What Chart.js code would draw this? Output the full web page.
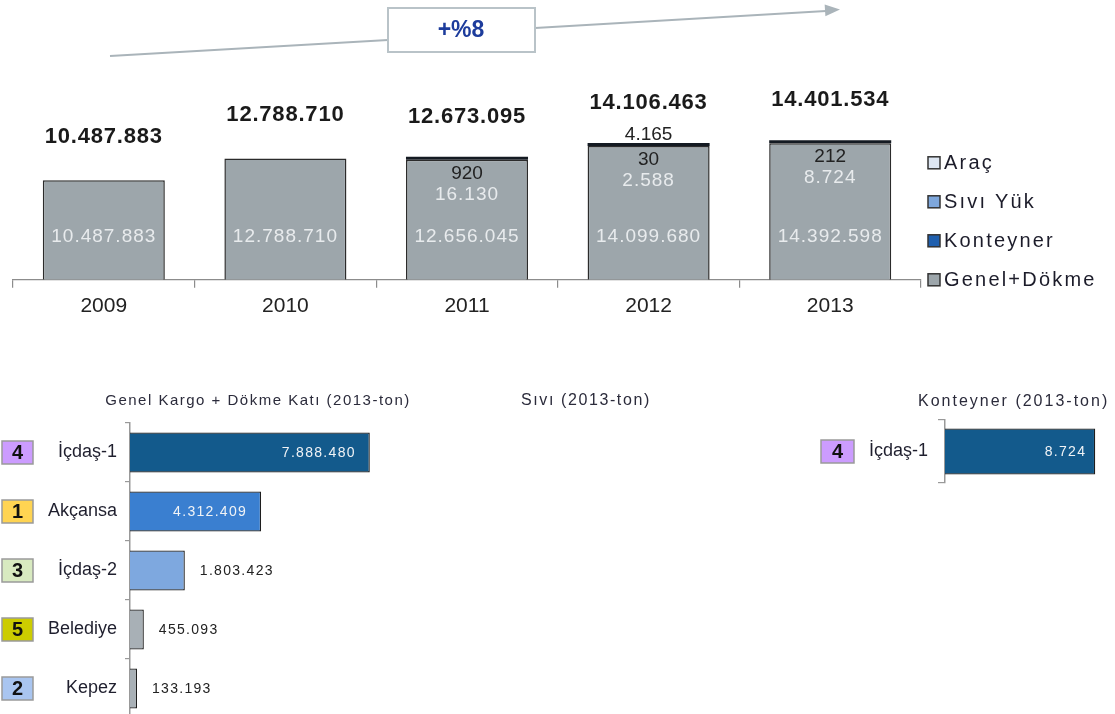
<!DOCTYPE html>
<html><head><meta charset="utf-8">
<script src="https://cdn.jsdelivr.net/npm/chart.js@4"></script>
<style>
html,body{margin:0;padding:0;background:#fff;overflow:hidden;width:1115px;height:714px;}
.c{position:absolute;}
canvas{display:block;}
</style></head><body>
<div class="c" style="left:0;top:0;"><canvas id="top" width="1115" height="340"></canvas></div>
<div class="c" style="left:0;top:380px;"><canvas id="left" width="450" height="357"></canvas></div>
<div class="c" style="left:500px;top:380px;"><canvas id="right" width="615" height="140"></canvas></div>
<script>
// ---------- data ----------
const years = ['2009','2010','2011','2012','2013'];
const genelDokme = [10487883,12788710,12656045,14099680,14392598];
const konteyner  = [null,null,16130,2588,8724];
const siviYuk    = [null,null,920,30,212];
const arac       = [null,null,null,4165,null];
const seriesNames = ['Genel+Dökme','Konteyner','Sıvı Yük','Araç'];

const genelTitle = 'Genel Kargo + Dökme Katı (2013-ton)';
const genelCompanies = ['İçdaş-1','Akçansa','İçdaş-2','Belediye','Kepez'];
const genelValues = [7888480,4312409,1803423,455093,133193];
const genelRanks = ['4','1','3','5','2'];

const siviTitle = 'Sıvı (2013-ton)';
const konteynerTitle = 'Konteyner (2013-ton)';
const konteynerCompanies = ['İçdaş-1'];
const konteynerValues = [8724];
const konteynerRanks = ['4'];

// ---------- styles ----------
const FONT = "'Liberation Sans', Arial, sans-serif";
const fmt = v => String(v).replace(/\B(?=(\d{3})+(?!\d))/g, '.');
const rankColors = {'1':'#ffd452','2':'#a9c5f0','3':'#d8eac0','4':'#cc9cff','5':'#cccc00'};
const legendColors = ['#9da6ab','#1f5fae','#7ea7dc','#dde6f2'];

const totals = years.map((_, i) => genelDokme[i] + (konteyner[i]||0) + (siviYuk[i]||0) + (arac[i]||0));
const growthPct = Math.round((Math.pow(totals[totals.length-1]/totals[0], 1/(totals.length-1)) - 1) * 100);

// ---------- top chart plugins ----------
const arrowPlugin = {
  id: 'arrow',
  afterDraw(chart) {
    const ctx = chart.ctx;
    ctx.save();
    ctx.strokeStyle = '#aab4ba'; ctx.lineWidth = 2;
    ctx.beginPath(); ctx.moveTo(110, 56); ctx.lineTo(388, 40); ctx.stroke();
    ctx.beginPath(); ctx.moveTo(535, 28); ctx.lineTo(826, 11); ctx.stroke();
    const tx = 840, ty = 9.5, dx = 1, dy = -0.058, len = Math.hypot(dx, dy);
    const ux = dx/len, uy = dy/len, px = -uy, py = ux;
    ctx.fillStyle = '#aab4ba';
    ctx.beginPath();
    ctx.moveTo(tx, ty);
    ctx.lineTo(tx - ux*15 + px*6, ty - uy*15 + py*6);
    ctx.lineTo(tx - ux*15 - px*6, ty - uy*15 - py*6);
    ctx.closePath(); ctx.fill();
    ctx.fillStyle = '#fff'; ctx.fillRect(388, 8, 147, 44);
    ctx.strokeStyle = '#b9c3c8'; ctx.lineWidth = 2; ctx.strokeRect(388, 8, 147, 44);
    ctx.fillStyle = '#1d3c9c'; ctx.font = `bold 23px ${FONT}`;
    ctx.textAlign = 'center'; ctx.textBaseline = 'middle';
    ctx.fillText('+%' + growthPct, 461, 31);
    ctx.restore();
  }
};

const topLabels = {
  id: 'topLabels',
  afterDatasetsDraw(chart) {
    const ctx = chart.ctx;
    const m0 = chart.getDatasetMeta(0);
    ctx.save();
    ctx.textAlign = 'center'; ctx.textBaseline = 'middle';
    years.forEach((y, i) => {
      const el = m0.data[i];
      const x = el.x, top = el.y, bottom = el.base;
      ctx.font = `19px ${FONT}`;
      ctx.letterSpacing = '1px';
      ctx.fillStyle = '#e8ebed';
      ctx.fillText(fmt(genelDokme[i]), x, bottom - 43);
      if (konteyner[i]) ctx.fillText(fmt(konteyner[i]), x, top + 35);
      ctx.fillStyle = '#222';
      ctx.letterSpacing = '0px';
      if (siviYuk[i]) ctx.fillText(fmt(siviYuk[i]), x, top + 14);
      if (arac[i]) ctx.fillText(fmt(arac[i]), x, top - 11);
      ctx.font = `bold 22px ${FONT}`;
      ctx.fillStyle = '#1a1a1a';
      ctx.letterSpacing = '0.8px';
      ctx.fillText(fmt(totals[i]), x, top - 43);
    });
    ctx.restore();
  }
};

const topLegend = {
  id: 'topLegend',
  afterDraw(chart) {
    const ctx = chart.ctx;
    const b = chart.chartArea.bottom;
    ctx.save();
    ctx.font = `20px ${FONT}`;
    ctx.letterSpacing = '2.2px';
    ctx.textAlign = 'left'; ctx.textBaseline = 'middle';
    for (let k = seriesNames.length - 1; k >= 0; k--) {
      const yc = b - k * 39;
      ctx.fillStyle = legendColors[k];
      ctx.fillRect(928, yc - 6, 12, 12);
      ctx.strokeStyle = '#333'; ctx.lineWidth = 1.5;
      ctx.strokeRect(928, yc - 6, 12, 12);
      ctx.fillStyle = '#1c1c2a';
      ctx.fillText(seriesNames[k], 944, yc + 1);
    }
    ctx.restore();
  }
};

new Chart(document.getElementById('top'), {
  type: 'bar',
  data: {
    labels: years,
    datasets: [
      {label: seriesNames[0], data: genelDokme, backgroundColor: '#9da6ab', borderColor: '#2b2b2b', borderWidth: 1.5},
      {label: seriesNames[1], data: konteyner, backgroundColor: '#141a22', borderWidth: 0, minBarLength: 3},
      {label: seriesNames[2], data: siviYuk, backgroundColor: '#7ea7dc', borderWidth: 0},
      {label: seriesNames[3], data: arac, backgroundColor: '#dde6f2', borderWidth: 0}
    ]
  },
  options: {
    responsive: false, animation: false,
    datasets: {bar: {barPercentage: 0.672, categoryPercentage: 1}},
    layout: {padding: {left: 13, right: 194, top: 90, bottom: 15}},
    plugins: {legend: {display: false}, tooltip: {enabled: false}},
    scales: {
      y: {display: false, stacked: true, min: 0, max: 20000000},
      x: {stacked: true,
          grid: {display: true, drawOnChartArea: false, tickLength: 8, color: '#8c8c8c', lineWidth: 1.2},
          border: {display: true, color: '#8c8c8c', width: 1.2},
          ticks: {font: {family: FONT, size: 21}, color: '#222', padding: 6}}
    }
  },
  plugins: [topLabels, topLegend, arrowPlugin]
});

// ---------- bottom charts ----------
function hbarPlugin(opts) {
  return {
    id: 'hbar_' + opts.name,
    afterDraw(chart) {
      const ctx = chart.ctx;
      const meta = chart.getDatasetMeta(0);
      const ys = chart.scales.y;
      ctx.save();
      ctx.fillStyle = '#2b2b3b'; ctx.textBaseline = 'middle';
      opts.titles.forEach(t => {
        ctx.font = `${t.size}px ${FONT}`; ctx.letterSpacing = t.ls + 'px';
        ctx.textAlign = t.align; ctx.fillText(t.text, t.x, t.y);
      });
      opts.ranks.forEach((r, i) => {
        const yc = ys.getPixelForValue(i);
        ctx.fillStyle = rankColors[r];
        ctx.fillRect(opts.badgeX, yc - 11.5, opts.badgeW, 23);
        ctx.strokeStyle = '#9a9a9a'; ctx.lineWidth = 1.5;
        ctx.strokeRect(opts.badgeX, yc - 11.5, opts.badgeW, 23);
        ctx.fillStyle = '#111'; ctx.font = `bold 20px ${FONT}`; ctx.letterSpacing = '0px';
        ctx.textAlign = 'center';
        ctx.fillText(r, opts.badgeX + opts.badgeW/2, yc + 1);
      });
      ctx.font = `14px ${FONT}`; ctx.letterSpacing = '1.3px';
      opts.values.forEach((v, i) => {
        const el = meta.data[i];
        const len = el.x - el.base;
        if (len > 100) {
          ctx.textAlign = 'right'; ctx.fillStyle = '#f0f3f6';
          ctx.fillText(fmt(v), el.x - opts.inset, el.y + 1);
        } else {
          ctx.textAlign = 'left'; ctx.fillStyle = '#222';
          ctx.fillText(fmt(v), el.x + 15, el.y + 1);
        }
      });
      ctx.restore();
    }
  };
}

new Chart(document.getElementById('left'), {
  type: 'bar',
  data: {labels: genelCompanies, datasets: [{
    data: genelValues,
    backgroundColor: ['#135a8c','#3a7fd0','#7ea8df','#a8b0b6','#a8b0b6'],
    borderColor: '#1e1e1e', borderWidth: 1.3, minBarLength: 7,
    barPercentage: 0.68, categoryPercentage: 1
  }]},
  options: {
    indexAxis: 'y', responsive: false, animation: false,
    layout: {padding: {left: 0, right: 16, top: 43, bottom: 19}},
    plugins: {legend: {display: false}, tooltip: {enabled: false}},
    scales: {
      x: {display: false, min: 0, max: 10000000},
      y: {afterFit(s) { s.width = 130; },
          grid: {drawOnChartArea: false, tickLength: 5, color: '#999', lineWidth: 1.2},
          border: {color: '#999', width: 1.5},
          ticks: {font: {family: FONT, size: 18}, color: '#1f1f2e', padding: 8}}
    }
  },
  plugins: [hbarPlugin({name: 'left', titles: [{text: genelTitle, x: 258, y: 21, align: 'center', size: 15, ls: 1.5}],
    ranks: genelRanks, values: genelValues, badgeX: 2, badgeW: 31, inset: 14})]
});

new Chart(document.getElementById('right'), {
  type: 'bar',
  data: {labels: konteynerCompanies, datasets: [{
    data: konteynerValues,
    backgroundColor: '#135a8c', borderColor: '#1e1e1e', borderWidth: 1.3,
    barPercentage: 0.73, categoryPercentage: 1
  }]},
  options: {
    indexAxis: 'y', responsive: false, animation: false,
    layout: {padding: {left: 0, right: 15, top: 40, bottom: 37}},
    plugins: {legend: {display: false}, tooltip: {enabled: false}},
    scales: {
      x: {display: false, min: 0, max: 9000},
      y: {afterFit(s) { s.width = 445; },
          grid: {drawOnChartArea: false, tickLength: 7, color: '#999', lineWidth: 1.2},
          border: {color: '#999', width: 1.5},
          ticks: {font: {family: FONT, size: 18}, color: '#1f1f2e', padding: 10}}
    }
  },
  plugins: [hbarPlugin({name: 'right', titles: [
      {text: siviTitle, x: 21, y: 21, align: 'left', size: 16, ls: 1.6},
      {text: konteynerTitle, x: 418, y: 22, align: 'left', size: 16, ls: 2.0}],
    ranks: konteynerRanks, values: konteynerValues, badgeX: 321, badgeW: 33, inset: 9})]
});
</script>
</body></html>
